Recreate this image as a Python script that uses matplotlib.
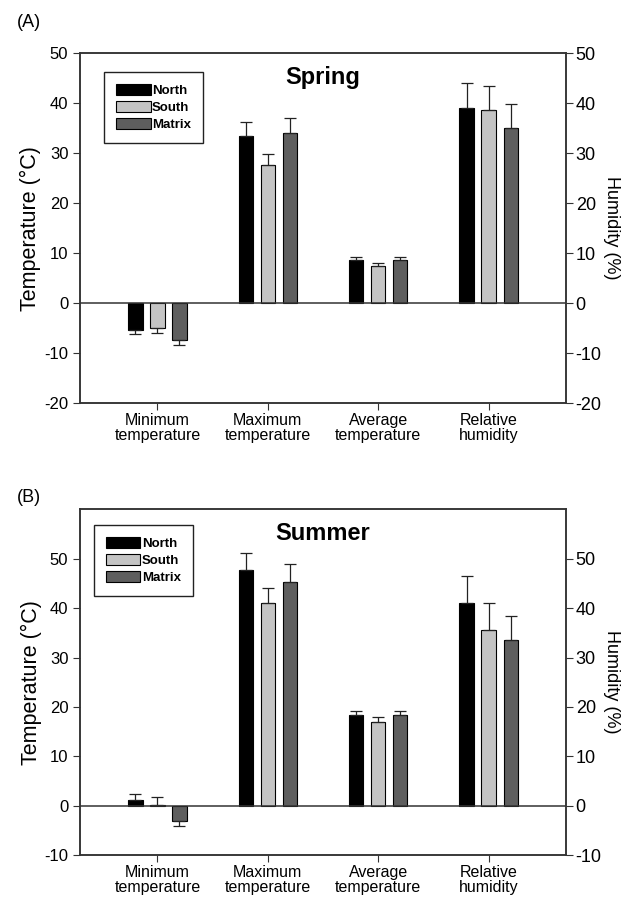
import numpy as np
import matplotlib
matplotlib.use("Agg")
import matplotlib.pyplot as plt

plt.rcParams['font.family'] = ['Liberation Sans', 'DejaVu Sans']
plt.rcParams['axes.unicode_minus'] = False

categories = ["Minimum\ntemperature", "Maximum\ntemperature", "Average\ntemperature", "Relative\nhumidity"]
sites = ["North", "South", "Matrix"]
colors = ["#000000", "#c4c4c4", "#5e5e5e"]

# spring means and error bar lengths
spring_north = [-5.3, 33.5, 8.6, 39.0]
spring_south = [-4.9, 27.6, 7.5, 38.6]
spring_matrix = [-7.4, 34.0, 8.6, 35.0]
spring_north_err = [0.9, 2.8, 0.7, 5.1]
spring_south_err = [1.0, 2.2, 0.6, 4.9]
spring_matrix_err = [0.9, 3.0, 0.7, 4.9]

# summer
summer_north = [1.1, 47.7, 18.3, 41.1]
summer_south = [0.05, 41.1, 16.9, 35.5]
summer_matrix = [-3.1, 45.3, 18.3, 33.6]
summer_north_err = [1.3, 3.4, 0.9, 5.5]
summer_south_err = [1.6, 2.9, 1.0, 5.5]
summer_matrix_err = [1.1, 3.7, 0.9, 4.9]


def panel(rect, title, means, errs, ylim, yticks, letter, letter_y, legend_box):
    ax = fig.add_axes(rect)
    x = np.arange(len(categories))
    w = 0.13
    offs = [-0.2, 0.0, 0.2]
    handles = []
    for m, e, c, o, s in zip(means, errs, colors, offs, sites):
        m = np.array(m)
        e = np.array(e)
        lower = np.where(m < 0, e, 0)
        upper = np.where(m >= 0, e, 0)
        b = ax.bar(x + o, m, w, color=c, edgecolor="black", linewidth=0.8,
                   yerr=[lower, upper], capsize=4,
                   error_kw=dict(ecolor="#222222", elinewidth=0.9, capthick=0.9),
                   label=s, zorder=3)
        handles.append(b)
    ax.axhline(0, color="#333333", linewidth=1.1, zorder=4)
    ax.set_xlim(-0.7, 3.7)
    ax.set_ylim(*ylim)
    ax.set_yticks(yticks)
    ax.set_xticks(x)
    ax.set_xticklabels(categories, fontsize=11.5, linespacing=1.0)
    ax.tick_params(axis='both', direction='out', length=5, color="#333333")
    ax.tick_params(axis='x', pad=2)
    ax.tick_params(axis='y', labelsize=12)
    for sp in ax.spines.values():
        sp.set_color("#333333")
        sp.set_linewidth(1.1)
    ax.set_ylabel("Temperature (°C)", fontsize=15.5, labelpad=2)
    ax2 = ax.twinx()
    ax2.set_ylim(*ylim)
    ax2.set_yticks(yticks)
    ax2.tick_params(axis='y', direction='out', length=5, color="#333333", labelsize=13, pad=2)
    for sp in ax2.spines.values():
        sp.set_color("#333333")
        sp.set_linewidth(1.1)
    ax2.set_ylabel("Humidity (%)", fontsize=13, rotation=270, labelpad=13)
    ax.text(0.5, 0.93, title, transform=ax.transAxes, ha="center", va="center",
            fontsize=17, fontweight="bold")
    leg = ax.legend(handles=handles, labels=sites, loc="upper left",
                    bbox_to_anchor=legend_box, borderaxespad=0, fancybox=False,
                    framealpha=1, edgecolor="#222222", prop=dict(size=9.5, weight="bold"),
                    handlelength=2.6, handleheight=0.9, handletextpad=0.1,
                    labelspacing=0.3, borderpad=0.9)
    leg.get_frame().set_linewidth(1.0)
    fig.text(0.027, letter_y, letter, fontsize=13, ha="left", va="center")
    return ax


fig = plt.figure(figsize=(6.26, 9), dpi=100)
panel([0.128, 0.552, 0.776, 0.389], "Spring",
      [spring_north, spring_south, spring_matrix],
      [spring_north_err, spring_south_err, spring_matrix_err],
      (-20, 50), np.arange(-20, 51, 10), "(A)", 0.975, (0.05, 0.946))
panel([0.128, 0.05, 0.776, 0.384], "Summer",
      [summer_north, summer_south, summer_matrix],
      [summer_north_err, summer_south_err, summer_matrix_err],
      (-10, 60), np.arange(-10, 51, 10), "(B)", 0.447, (0.029, 0.954))

fig.savefig("out.png", dpi=100)
